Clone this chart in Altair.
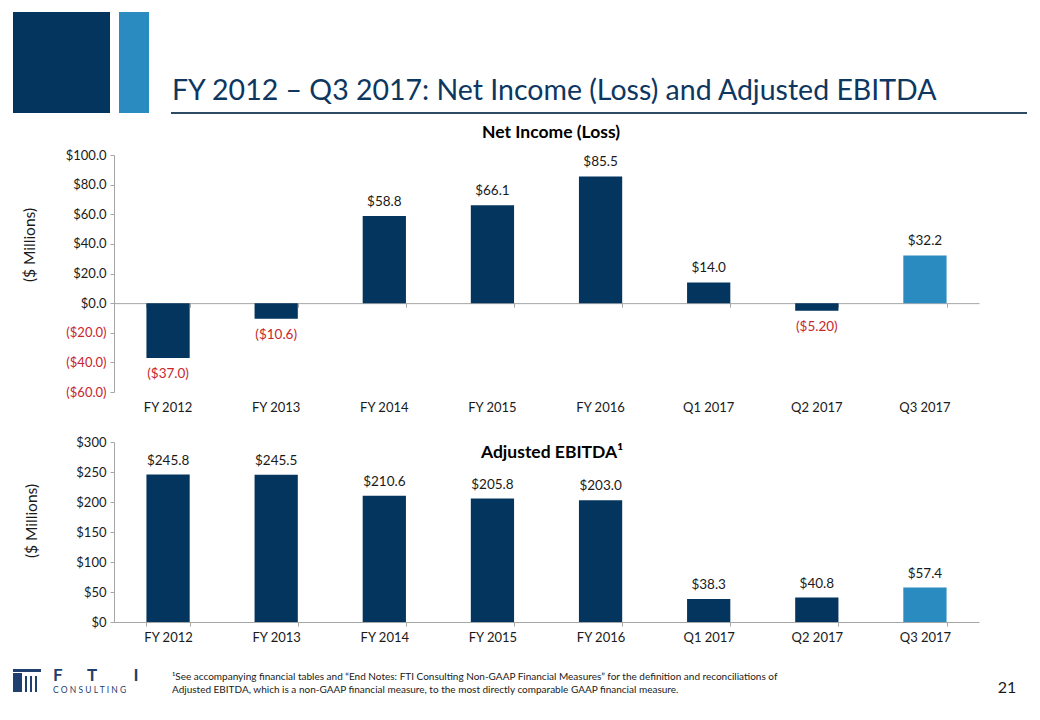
import altair as alt
import pandas as pd

# ---------------- data ----------------
categories = ["FY 2012", "FY 2013", "FY 2014", "FY 2015", "FY 2016", "Q1 2017", "Q2 2017", "Q3 2017"]
net_income = [-37.0, -10.6, 58.8, 66.1, 85.5, 14.0, -5.2, 32.2]
net_income_labels = ["($37.0)", "($10.6)", "$58.8", "$66.1", "$85.5", "$14.0", "($5.20)", "$32.2"]
ebitda = [245.8, 245.5, 210.6, 205.8, 203.0, 38.3, 40.8, 57.4]
ebitda_labels = ["$245.8", "$245.5", "$210.6", "$205.8", "$203.0", "$38.3", "$40.8", "$57.4"]
top_ticks = [-60, -40, -20, 0, 20, 40, 60, 80, 100]
bottom_ticks = [0, 50, 100, 150, 200, 250, 300]

slide_title = "FY 2012 \u2013 Q3 2017: Net Income (Loss) and Adjusted EBITDA"
top_title = "Net Income (Loss)"
bottom_title = "Adjusted EBITDA\u00b9"
y_title = "($ Millions)"
footnote_1 = ("\u00b9See accompanying  financial tables and \u201cEnd Notes: FTI Consulting Non-GAAP Financial "
              "Measures\u201d for the definition and reconciliations of")
footnote_2 = "Adjusted EBITDA, which is a non-GAAP financial measure, to the most directly comparable GAAP financial measure."
page_number = "21"
highlight = "Q3 2017"

# ---------------- style ----------------
DARK = "#03355F"
LIGHT = "#2A8BC0"
RED = "#C8262C"
GRAY = "#A6A6A6"
TXT = "#1a1a1a"
TITLE_C = "#0D3760"
FONT = "Lato"

W = 865
H1 = 237
H2 = 180

xscale = alt.Scale(paddingInner=0.6, paddingOuter=0.3)
bar_color = alt.condition(alt.datum.cat == highlight, alt.value(LIGHT), alt.value(DARK))

def one(text):
    return alt.Chart(pd.DataFrame({"t": [text]}))

# ---------------- top chart ----------------
ni = pd.DataFrame({"cat": categories, "value": net_income, "label": net_income_labels})
base1 = alt.Chart(ni)

y_axis1 = alt.Axis(title=None, values=top_ticks, format="($.1f", grid=False,
                   domainColor=GRAY, tickColor=GRAY, tickSize=4, labelPadding=4,
                   labelFontSize=13, labelFont=FONT,
                   labelColor={"condition": {"test": "datum.value < 0", "value": RED}, "value": TXT})
y1 = alt.Y("value:Q", scale=alt.Scale(domain=[-60, 100], nice=False, zero=True), axis=y_axis1)

bars1 = base1.mark_bar().encode(
    x=alt.X("cat:N", sort=categories, scale=xscale,
            axis=alt.Axis(title=None, domain=False, ticks=False, labelAngle=0, labelPadding=9,
                          labelFontSize=13, labelColor=TXT, labelFont=FONT)),
    y=y1,
    color=bar_color,
)
zero_axis = base1.mark_point(opacity=0).encode(
    x=alt.X("cat:N", sort=categories, scale=xscale,
            axis=alt.Axis(title=None, orient="bottom", offset=-H1 * 60 / 160, labels=False,
                          domainColor=GRAY, tickColor=GRAY, tickSize=4, tickBand="extent")),
    y=y1,
)
pos1 = base1.transform_filter("datum.value >= 0").mark_text(
    baseline="bottom", dy=-7, fontSize=13.5, color=TXT, font=FONT
).encode(x=alt.X("cat:N", sort=categories, scale=xscale, axis=None), y=y1, text="label:N")
neg1 = base1.transform_filter("datum.value < 0").mark_text(
    baseline="top", dy=9, fontSize=13.5, color=RED, font=FONT
).encode(x=alt.X("cat:N", sort=categories, scale=xscale, axis=None), y=y1, text="label:N")

sq_dark = one("a").mark_rect(color=DARK).encode(
    x=alt.value(-101), x2=alt.value(-4), y=alt.value(-143), y2=alt.value(-42))
sq_light = one("b").mark_rect(color=LIGHT).encode(
    x=alt.value(5), x2=alt.value(35), y=alt.value(-143), y2=alt.value(-42))
title_txt = one(slide_title).mark_text(align="left", baseline="alphabetic", fontSize=28.5,
                                       color=TITLE_C, font=FONT).encode(
    x=alt.value(58), y=alt.value(-55), text="t:N")
underline = one("u").mark_rule(color="#2E4A66", strokeWidth=2).encode(
    x=alt.value(57), x2=alt.value(913), y=alt.value(-42))
chart_title1 = one(top_title).mark_text(align="center", baseline="alphabetic", fontSize=17.5,
                                        fontWeight="bold", color="#000000", font=FONT).encode(
    x=alt.value(437), y=alt.value(-17), text="t:N")
ytitle1 = one(y_title).mark_text(angle=270, align="center", baseline="middle", fontSize=15.5,
                                 color=TXT, font=FONT).encode(
    x=alt.value(-84), y=alt.value(90), text="t:N")

top = alt.layer(sq_dark, sq_light, title_txt, underline, chart_title1, ytitle1,
                bars1, zero_axis, pos1, neg1).resolve_axis(x="independent").properties(
    width=W, height=H1)

# ---------------- bottom chart ----------------
eb = pd.DataFrame({"cat": categories, "value": ebitda, "label": ebitda_labels})
base2 = alt.Chart(eb)
y_axis2 = alt.Axis(title=None, values=bottom_ticks, format="$.0f", grid=False,
                   domainColor=GRAY, tickColor=GRAY, tickSize=4, labelPadding=4,
                   labelFontSize=13, labelColor=TXT, labelFont=FONT)
y2 = alt.Y("value:Q", scale=alt.Scale(domain=[0, 300], nice=False), axis=y_axis2)

bars2 = base2.mark_bar().encode(
    x=alt.X("cat:N", sort=categories, scale=xscale,
            axis=alt.Axis(title=None, labelAngle=0, domainColor=GRAY, tickColor=GRAY, tickSize=4,
                          tickBand="extent", labelPadding=5, labelFontSize=13, labelColor=TXT,
                          labelFont=FONT)),
    y=y2,
    color=bar_color,
)
lab2 = base2.mark_text(baseline="bottom", dy=-7, fontSize=13.5, color=TXT, font=FONT).encode(
    x=alt.X("cat:N", sort=categories, scale=xscale), y=y2, text="label:N")

chart_title2 = one(bottom_title).mark_text(align="center", baseline="alphabetic", fontSize=17.5,
                                           fontWeight="bold", color="#000000", font=FONT).encode(
    x=alt.value(438), y=alt.value(16), text="t:N")
ytitle2 = one(y_title).mark_text(angle=270, align="center", baseline="middle", fontSize=15.5,
                                 color=TXT, font=FONT).encode(
    x=alt.value(-82), y=alt.value(79), text="t:N")
foot1 = one(footnote_1).mark_text(align="left", baseline="alphabetic", fontSize=10,
                                  color=TXT, font=FONT).encode(x=alt.value(58), y=alt.value(238), text="t:N")
foot2 = one(footnote_2).mark_text(align="left", baseline="alphabetic", fontSize=10,
                                  color=TXT, font=FONT).encode(x=alt.value(58), y=alt.value(251), text="t:N")
pnum = one(page_number).mark_text(align="center", baseline="alphabetic", fontSize=16,
                                  color=TXT, font=FONT).encode(x=alt.value(893), y=alt.value(251), text="t:N")

# FTI Consulting logo (decoration)
logo_navy = "#1F3F6E"
logo_rects = pd.DataFrame({
    "x": [-101, -101, -89, -84, -79],
    "x2": [-73, -92, -87, -82, -77],
    "y": [227, 231, 234, 234, 234],
    "y2": [230, 250, 250, 250, 250],
})
logo_icon = alt.Chart(logo_rects).mark_rect(color=logo_navy).encode(
    x=alt.X("x:Q", scale=None), x2="x2:Q", y=alt.Y("y:Q", scale=None), y2="y2:Q")
logo_f = one("F").mark_text(align="left", baseline="alphabetic", fontSize=17, fontWeight="bold",
                            color=logo_navy, font=FONT).encode(x=alt.value(-61), y=alt.value(239), text="t:N")
logo_t = one("T").mark_text(align="center", baseline="alphabetic", fontSize=17, fontWeight="bold",
                            color=logo_navy, font=FONT).encode(x=alt.value(-22), y=alt.value(239), text="t:N")
logo_i = one("I").mark_text(align="center", baseline="alphabetic", fontSize=17, fontWeight="bold",
                            color=logo_navy, font=FONT).encode(x=alt.value(22), y=alt.value(239), text="t:N")
logo_c = one("C O N S U L T I N G").mark_text(align="left", baseline="alphabetic", fontSize=8.5,
                                              color=logo_navy, font=FONT).encode(
    x=alt.value(-61), y=alt.value(251), text="t:N")

bottom = alt.layer(bars2, lab2, chart_title2, ytitle2, foot1, foot2, pnum,
                   logo_icon, logo_f, logo_t, logo_i, logo_c).properties(width=W, height=H2)

chart = alt.vconcat(top, bottom, spacing=22).properties(
    padding={"left": 5, "top": 4, "right": 0, "bottom": 0}
).configure(font=FONT, background="white", view=alt.ViewConfig(stroke=None))

chart.save("out.html", embed_options={"renderer": "svg", "actions": False})
